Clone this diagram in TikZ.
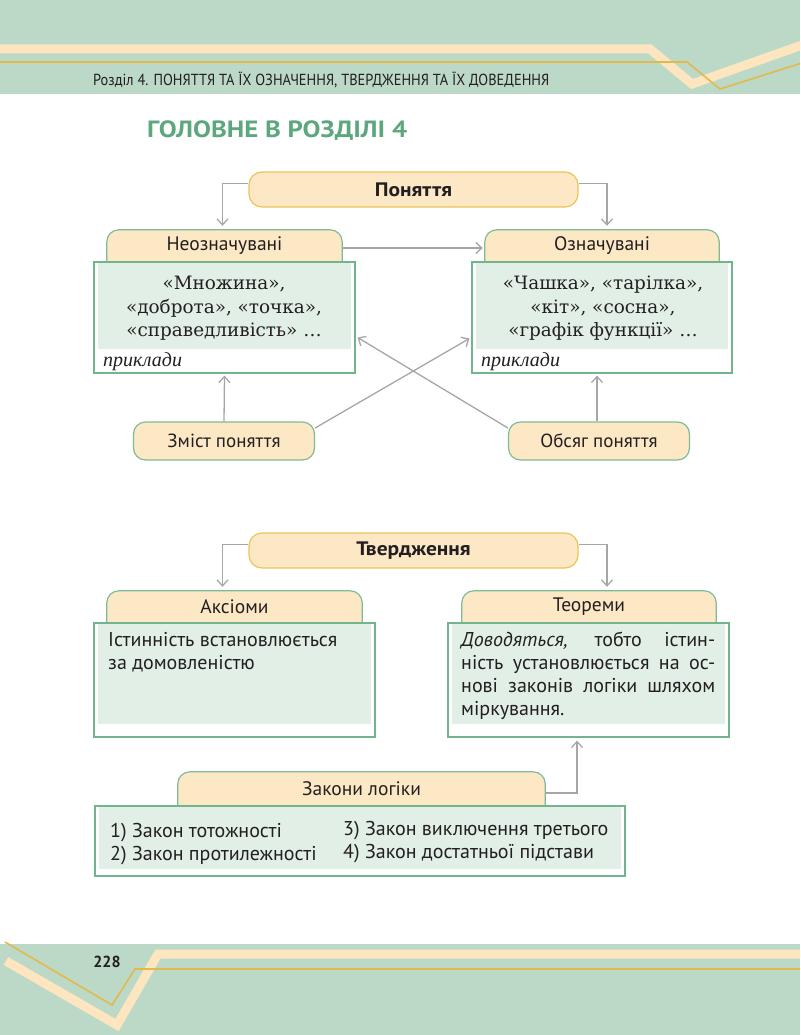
\documentclass[tikz,border=0pt]{standalone}
\usepackage{fontspec}
\setmainfont{PT Sans}
\newfontfamily\hdrfont{PT Sans}[FakeStretch=0.9]
\newfontfamily\widefont{PT Sans}[FakeStretch=1.1]
\newfontfamily\titlefont{PT Sans}[FakeStretch=1.14]
\newfontfamily\exfont{DejaVu Serif}
\newfontfamily\prfont{Liberation Serif}
\usetikzlibrary{arrows.meta,backgrounds,calc}
\definecolor{hdrgreen}{HTML}{BCD9C7}
\definecolor{paleband}{HTML}{FDE6BF}
\definecolor{goldline}{HTML}{E2B94A}
\definecolor{tabfill}{HTML}{FCE8C5}
\definecolor{tabborder}{HTML}{7DBC95}
\definecolor{bodyborder}{HTML}{72B48C}
\definecolor{bodyfill}{HTML}{E2EFE7}
\definecolor{ponborder}{HTML}{EBC357}
\definecolor{titlegreen}{HTML}{5DA77E}
\definecolor{arrgray}{HTML}{A6A6A6}
\definecolor{txt}{HTML}{231F20}
\begin{document}
\begin{tikzpicture}[x=1pt,y=1pt,
  topnode/.style={draw=ponborder, fill=tabfill, line width=1.2pt, rounded corners=13pt,
    minimum width=329pt, minimum height=35pt, inner sep=0pt,
    font=\widefont\bfseries\fontsize{19.5}{22}\selectfont, text=txt},
  tabtext/.style={inner sep=0pt, minimum height=32pt, font=\fontsize{19.5}{22}\selectfont, text=txt},
  tabshape/.style={fill=tabfill, draw=tabborder, line width=1.2pt, rounded corners=12pt},
  bodybox/.style={draw=bodyborder, fill=white, line width=1.2pt, inner sep=0pt},
  pill/.style={draw=tabborder, fill=tabfill, line width=1.2pt, rounded corners=12pt,
    minimum width=181pt, minimum height=38pt, inner sep=0pt,
    font=\fontsize{19}{22}\selectfont, text=txt},
  extext/.style={inner sep=0pt, align=center, font=\exfont\fontsize{18.4}{23.5}\selectfont, text=txt},
  prtext/.style={inner sep=0pt, anchor=base west, font=\prfont\itshape\fontsize{20}{22}\selectfont, text=txt},
  sanstext/.style={inner sep=0pt, align=left, font=\fontsize{20}{23}\selectfont, text=txt},
  arr/.style={draw=arrgray, line width=1.3pt, -{Straight Barb[length=6pt,width=11pt]}}
]
\useasboundingbox (0,0) rectangle (800,-1035);
\clip (0,0) rectangle (800,-1035);

% header
\fill[hdrgreen] (0,0) rectangle (800,-94);
\draw[paleband, line width=9pt] (-5,-49) -- (650,-49) -- (692,-84) -- (805,-44);
\draw[goldline, line width=1.6pt] (-5,-62) -- (687,-62) -- (720,-89) -- (805,-62);
\node[anchor=base west, inner sep=0pt, font=\hdrfont\fontsize{16}{18}\selectfont, text=txt] (hdr) at (93,-86)
  {Розділ 4. ПОНЯТТЯ ТА ЇХ ОЗНАЧЕННЯ, ТВЕРДЖЕННЯ ТА ЇХ ДОВЕДЕННЯ};

% footer
\fill[hdrgreen] (0,-944) rectangle (800,-1040);
\draw[paleband, line width=9pt] (805,-954) -- (158,-954) -- (117,-1025) -- (6,-961);
\draw[goldline, line width=1.6pt] (5,-942) -- (112,-1005) -- (135,-969) -- (805,-969);
\node[font=\bfseries\fontsize{16}{18}\selectfont, text=txt, inner sep=0pt] (page) at (107,-962) {228};

% title
\node[anchor=west, inner sep=0pt, font=\titlefont\bfseries\fontsize{23.5}{27}\selectfont, text=titlegreen] (title) at (147,-131)
  {ГОЛОВНЕ В РОЗДІЛІ 4};

% ===== Section 1 =====
\node[topnode] (pon) at (413.5,-189.5) {Поняття};

\node[tabtext, minimum width=235pt] (neo) at (224.5,-246) {Неозначувані};
\node[tabtext, minimum width=234pt] (oz) at (602,-246) {Означувані};
\begin{scope}[on background layer]
  \draw[tabshape] (neo.south west) -- (neo.north west) -- (neo.north east) -- (neo.south east);
  \draw[tabshape] (oz.south west) -- (oz.north west) -- (oz.north east) -- (oz.south east);
\end{scope}

\node[bodybox, minimum width=261pt, minimum height=111pt] (neobody) at (224.5,-317.5) {};
\fill[bodyfill] ($(neobody.north west)+(5,-2)$) rectangle ($(neobody.south east)+(-5,25)$);
\node[bodybox, minimum width=260pt, minimum height=111pt] (ozbody) at (602,-317.5) {};
\fill[bodyfill] ($(ozbody.north west)+(5,-2)$) rectangle ($(ozbody.south east)+(-5,25)$);

\node[extext, anchor=north] (neoex) at (224,-276) {«Множина»,\\«доброта», «точка»,\\«справедливість» …};
\node[extext, anchor=north] (ozex) at (603,-276) {«Чашка», «тарілка»,\\«кіт», «сосна»,\\«графік функції» …};
\node[prtext] (neopr) at (103,-366) {приклади};
\node[prtext] (ozpr) at (481,-366) {приклади};

\node[pill] (zmist) at (224,-441) {Зміст поняття};
\node[pill] (obs) at (599,-441) {Обсяг поняття};

\draw[arr] ([yshift=6pt]pon.west) -| ([xshift=-2pt,yshift=4pt]neo.north);
\draw[arr] ([yshift=6pt]pon.east) -| ([xshift=5pt,yshift=4pt]oz.north);
\draw[arr, shorten >=2pt] ([yshift=-2pt]neo.east) -- ([yshift=-2pt]oz.west);
\draw[arr] (zmist.north) -- ([yshift=-2pt]neobody.south);
\draw[arr] ([xshift=-2pt]obs.north) -- ([xshift=-5pt,yshift=-2pt]ozbody.south);
\draw[arr] ([yshift=13pt]zmist.east) -- ([xshift=-2pt,yshift=-21pt]ozbody.west);
\draw[arr] ([yshift=13pt]obs.west) -- ([xshift=2pt,yshift=-20pt]neobody.east);

% ===== Section 2 =====
\node[topnode] (tver) at (413.5,-550.5) {Твердження};

\node[tabtext, minimum width=255pt] (aks) at (234.5,-607) {Аксіоми};
\node[tabtext, minimum width=254pt] (teor) at (589,-607) {Теореми};
\begin{scope}[on background layer]
  \draw[tabshape] (aks.south west) -- (aks.north west) -- (aks.north east) -- (aks.south east);
  \draw[tabshape] (teor.south west) -- (teor.north west) -- (teor.north east) -- (teor.south east);
\end{scope}

\node[bodybox, minimum width=281pt, minimum height=114pt] (aksbody) at (234.5,-680) {};
\fill[bodyfill] ($(aksbody.north west)+(5,-2)$) rectangle ($(aksbody.south east)+(-5,14)$);
\node[bodybox, minimum width=281pt, minimum height=114pt] (teorbody) at (588.5,-680) {};
\fill[bodyfill] ($(teorbody.north west)+(5,-2)$) rectangle ($(teorbody.south east)+(-5,14)$);

\node[sanstext, anchor=north west] (akstxt) at (108,-632) {Істинність встановлюється\\за домовленістю};
\node[anchor=north west, inner sep=0pt, font=\fontsize{20}{23}\selectfont, text=txt] (teortxt) at (461,-632)
  {\vbox{\hbox to 254pt{\textit{Доводяться,} тобто істин-}%
   \hbox to 254pt{ність установлюється на ос-}%
   \hbox to 254pt{нові законів логіки шляхом}%
   \hbox{міркування.}}};

\draw[arr] ([yshift=6pt]tver.west) -| ([xshift=-12pt,yshift=4pt]aks.north);
\draw[arr] ([yshift=6pt]tver.east) -| ([xshift=18pt,yshift=4pt]teor.north);

% ===== Section 3 =====
\node[tabtext, minimum width=367pt, minimum height=34pt] (zak) at (361.5,-789) {Закони логіки};
\begin{scope}[on background layer]
  \draw[tabshape] (zak.south west) -- (zak.north west) -- (zak.north east) -- (zak.south east);
\end{scope}
\node[bodybox, minimum width=530pt, minimum height=70pt] (zakbody) at (360,-841) {};
\fill[bodyfill] ($(zakbody.north west)+(5,-2)$) rectangle ($(zakbody.south east)+(-5,8)$);
\node[sanstext, anchor=north west] (zakl) at (110,-823) {1) Закон тотожності\\2) Закон протилежності};
\node[sanstext, anchor=north west] (zakr) at (343,-821) {3) Закон виключення третього\\4) Закон достатньої підстави};

\draw[arr] ([yshift=-4pt]zak.east) -| ([xshift=-11.5pt,yshift=-3pt]teorbody.south);
\end{tikzpicture}
\end{document}
